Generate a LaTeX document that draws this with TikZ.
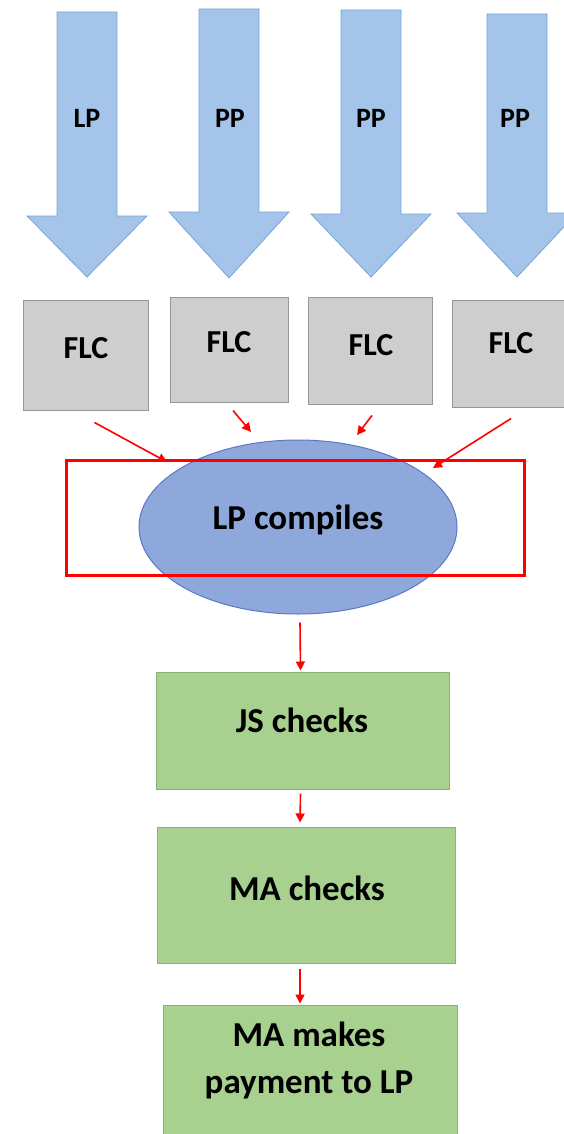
\documentclass[tikz,border=0pt]{standalone}
\usepackage{fontspec}
\setmainfont{Carlito}
\usetikzlibrary{arrows.meta,shapes.geometric,calc}
\definecolor{arrfill}{RGB}{164,197,233}
\definecolor{arredge}{RGB}{120,165,215}
\definecolor{flcfill}{RGB}{206,206,206}
\definecolor{flcedge}{RGB}{150,150,150}
\definecolor{ellfill}{RGB}{143,168,220}
\definecolor{elledge}{RGB}{90,120,195}
\definecolor{grfill}{RGB}{168,208,142}
\definecolor{gredge}{RGB}{135,180,110}
\definecolor{redc}{RGB}{255,0,0}
\tikzset{
  bluearrow/.style={fill=arrfill,draw=arredge,line width=0.8pt},
  flcbox/.style={rectangle,fill=flcfill,draw=flcedge,line width=1pt,inner sep=0pt},
  flctext/.style={font=\bfseries\fontsize{32}{36}\selectfont,inner sep=0pt},
  arrtext/.style={font=\bfseries\fontsize{28}{32}\selectfont,inner sep=0pt},
  bigtext/.style={font=\bfseries\fontsize{35}{47}\selectfont,inner sep=0pt,align=center},
  grbox/.style={rectangle,fill=grfill,draw=gredge,line width=1pt,inner sep=0pt},
  ellnode/.style={ellipse,fill=ellfill,draw=elledge,line width=1pt,inner sep=0pt,minimum width=318,minimum height=174},
  redarr/.style={draw=redc,line width=1.6pt,-{Triangle[length=9pt,width=9pt]}},
}
% #1 centre x, #2 top y, #3 y where the head starts, #4 tip y
\newcommand{\downarrowshape}[4]{%
  \draw[bluearrow] (#1-30,#2) -- (#1+30,#2) -- (#1+30,#3) -- (#1+60,#3) -- (#1,#4) -- (#1-60,#3) -- (#1-30,#3) -- cycle;}
\begin{document}
\begin{tikzpicture}[x=1pt,y=-1pt]
\useasboundingbox (0,0) rectangle (564,1134);
\clip (0,0) rectangle (564,1134);
% big blue arrows
\downarrowshape{87}{12}{216}{277}
\downarrowshape{229}{9}{212}{278}
\downarrowshape{371}{10}{214}{277}
\downarrowshape{517}{14}{213}{277}
\node[arrtext] (lab1) at (87,118) {LP};
\node[arrtext] (lab2) at (230,118) {PP};
\node[arrtext] (lab3) at (371,118) {PP};
\node[arrtext] (lab4) at (515,118) {PP};
% FLC boxes
\node[flcbox,minimum width=125,minimum height=110] (flc1) at (85.5,355) {};
\node[flcbox,minimum width=118,minimum height=105] (flc2) at (229,349.5) {};
\node[flcbox,minimum width=124,minimum height=107] (flc3) at (370,350.5) {};
\node[flcbox,minimum width=114,minimum height=107] (flc4) at (509,353.5) {};
\node[flctext] (t1) at (86,348) {FLC};
\node[flctext] (t2) at (229,342) {FLC};
\node[flctext] (t3) at (371,345) {FLC};
\node[flctext] (t4) at (511,343) {FLC};
% ellipse
\node[ellnode] (lp) at (298,527) {};
\node[bigtext] (lpt) at (298,520) {LP compiles};
\draw[redc,line width=3pt] (66,460) rectangle (524,575);
% red arrows into ellipse
\draw[redarr] ($(flc1.south)+(9,12)$) -- ($(lp.center)+(-131,-65)$);
\draw[redarr] ($(flc2.south)+(4,8)$) -- ($(lp.center)+(-47,-95)$);
\draw[redarr] ($(flc3.south)+(2,11)$) -- ($(lp.center)+(59,-92)$);
\draw[redarr] ($(flc4.south)+(2,11)$) -- ($(lp.center)+(135,-59)$);
% green boxes
\node[grbox,minimum width=293,minimum height=117] (js) at (302.5,730.5) {};
\node[bigtext] (jst) at (302,720) {JS checks};
\node[grbox,minimum width=298,minimum height=136] (ma) at (306,895) {};
\node[bigtext] (mat) at (307,888) {MA checks};
\node[grbox,minimum width=294,minimum height=140] (pay) at (310,1075) {};
\node[bigtext] (payt) at (309,1060) {MA makes\\payment to LP};
% vertical red arrows
\draw[redarr] ($(lp.south)+(2,8)$) -- ($(js.north)+(-2,-1)$);
\draw[redarr] ($(js.south)+(-2,4)$) -- ($(ma.north)+(-6,-4)$);
\draw[redarr] ($(ma.south)+(-6,5)$) -- ($(pay.north)+(-10,-1)$);
\end{tikzpicture}
\end{document}
